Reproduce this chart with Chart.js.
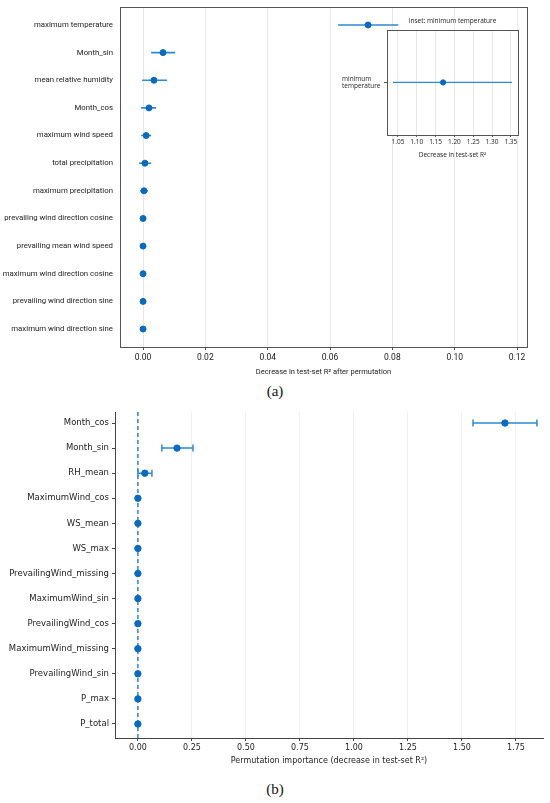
<!DOCTYPE html>
<html>
<head>
<meta charset="utf-8">
<script src="https://cdn.jsdelivr.net/npm/chart.js@4"></script>
<style>
  body { margin: 0; background: #fff; }
  #page { position: relative; width: 550px; height: 803px; overflow: hidden; background: #fff; }
  canvas { position: absolute; }
  .cap { position: absolute; width: 550px; left: 0; text-align: center; font-family: "Liberation Serif", "DejaVu Serif", serif; font-size: 15px; color: #111; }
</style>
</head>
<body>
<div id="page">
  <canvas id="chartA" width="550" height="380" style="left:0;top:0"></canvas>
  <canvas id="inset" width="200" height="155" style="left:330px;top:10px"></canvas>
  <div class="cap" style="top:383px">(a)</div>
  <canvas id="chartB" width="550" height="370" style="left:0;top:400px"></canvas>
  <div class="cap" style="top:781px">(b)</div>
</div>
<script>
// panel (a)
var labelsA = ['maximum temperature', 'Month_sin', 'mean relative humidity', 'Month_cos',
  'maximum wind speed', 'total precipitation', 'maximum precipitation',
  'prevailing wind direction cosine', 'prevailing mean wind speed',
  'maximum wind direction cosine', 'prevailing wind direction sine', 'maximum wind direction sine'];
var meanA = [0.0722, 0.0064, 0.0035, 0.0019, 0.0010, 0.0006, 0.0003, 0, 0, 0, 0, 0];
var lowA  = [0.0626, 0.0026, -0.0003, -0.0006, -0.0006, -0.0013, -0.0010, 0, 0, 0, 0, 0];
var highA = [0.0819, 0.0103, 0.0077, 0.0042, 0.0026, 0.0026, 0.0016, 0, 0, 0, 0, 0];
var ticksA = [0, 0.02, 0.04, 0.06, 0.08, 0.10, 0.12];
var rangeA = [-0.0074, 0.1232];

// inset of (a)
var labelsInset = [['minimum', 'temperature']];
var meanInset = [1.17];
var lowInset  = [1.037];
var highInset = [1.353];
var ticksInset = [1.05, 1.10, 1.15, 1.20, 1.25, 1.30, 1.35];
var rangeInset = [1.021, 1.369];

// panel (b)
var labelsB = ['Month_cos', 'Month_sin', 'RH_mean', 'MaximumWind_cos', 'WS_mean', 'WS_max',
  'PrevailingWind_missing', 'MaximumWind_sin', 'PrevailingWind_cos', 'MaximumWind_missing',
  'PrevailingWind_sin', 'P_max', 'P_total'];
var meanB = [1.699, 0.181, 0.032, 0, 0, 0, 0, 0, 0, 0, 0, 0, 0];
var lowB  = [1.551, 0.111, 0.000, 0, 0, 0, 0, 0, 0, 0, 0, 0, 0];
var highB = [1.847, 0.255, 0.065, 0, 0, 0, 0, 0, 0, 0, 0, 0, 0];
var ticksB = [0, 0.25, 0.5, 0.75, 1.0, 1.25, 1.5, 1.75];
var rangeB = [-0.106, 1.875];
var zeroLineB = 0;

var pointColor = '#0a6abd';
var barColor = '#2b8ad3';

function points(vals) {
  return vals.map(function(v, i) { return {x: v, y: i}; });
}

function whiskers(lo, hi) {
  var pts = [];
  for (var i = 0; i < lo.length; i++) {
    if (hi[i] > lo[i]) {
      pts.push({x: lo[i], y: i}, {x: hi[i], y: i}, {x: null, y: null});
    }
  }
  return pts;
}

function caps(lo, hi) {
  var pts = [];
  for (var i = 0; i < lo.length; i++) {
    if (hi[i] > lo[i]) {
      pts.push({x: lo[i], y: i}, {x: hi[i], y: i});
    }
  }
  return pts;
}

function fixTicks(list) {
  return function(scale) {
    scale.ticks = list.map(function(v) { return {value: v}; });
  };
}

function indexTicks(labels) {
  return fixTicks(labels.map(function(l, i) { return i; }));
}

// fixed axis width, no extra label padding at the ends
function yWidth(w) {
  return function(s) {
    s.width = w;
    s.paddingTop = 0;
    s.paddingBottom = 0;
  };
}

var frame = {
  id: 'frame',
  beforeDraw: function(chart, args, opts) {
    if (!opts.fill) return;
    var a = chart.chartArea, ctx = chart.ctx;
    ctx.save();
    ctx.fillStyle = opts.fill;
    ctx.fillRect(a.left, a.top, a.right - a.left, a.bottom - a.top);
    ctx.restore();
  },
  afterDraw: function(chart, args, opts) {
    if (!opts.color) return;
    var a = chart.chartArea, ctx = chart.ctx;
    ctx.save();
    ctx.strokeStyle = opts.color;
    ctx.lineWidth = 1;
    ctx.strokeRect(Math.round(a.left) + 0.5, Math.round(a.top) + 0.5,
      Math.round(a.right - a.left), Math.round(a.bottom - a.top));
    ctx.restore();
  }
};

var zeroLine = {
  id: 'zeroLine',
  beforeDatasetsDraw: function(chart, args, opts) {
    if (opts.value === undefined) return;
    var a = chart.chartArea, ctx = chart.ctx;
    var x = chart.scales.x.getPixelForValue(opts.value);
    ctx.save();
    ctx.strokeStyle = opts.color;
    ctx.lineWidth = 1.4;
    ctx.setLineDash([4, 3]);
    ctx.beginPath();
    ctx.moveTo(x, a.top);
    ctx.lineTo(x, a.bottom);
    ctx.stroke();
    ctx.restore();
  }
};

Chart.register(frame, zeroLine);

var fontA = 'Roboto, sans-serif';
var fontIn = "'Open Sans', sans-serif";
var fontB = "'DejaVu Sans', sans-serif";

new Chart(document.getElementById('chartA'), {
  type: 'scatter',
  data: {
    datasets: [{
      data: points(meanA),
      backgroundColor: pointColor,
      borderColor: pointColor,
      pointRadius: 3,
      pointHoverRadius: 3
    }, {
      data: whiskers(lowA, highA),
      showLine: true,
      spanGaps: false,
      borderColor: barColor,
      borderWidth: 1.6,
      pointRadius: 0
    }]
  },
  options: {
    responsive: false,
    animation: false,
    events: [],
    layout: {padding: {top: 7, right: 23, left: 0, bottom: 0}},
    plugins: {
      legend: {display: false},
      tooltip: {enabled: false},
      frame: {color: '#555'}
    },
    scales: {
      x: {
        type: 'linear',
        min: rangeA[0], max: rangeA[1],
        afterBuildTicks: fixTicks(ticksA),
        afterFit: function(s) { s.height = 33; },
        grid: {color: '#e8e8e8', drawTicks: true, tickLength: 3, tickColor: '#555'},
        border: {display: false},
        ticks: {color: '#222', font: {family: fontA, size: 8.5}, padding: 3,
          callback: function(v) { return v.toFixed(2); }},
        title: {display: true, text: 'Decrease in test-set R\u00b2 after permutation',
          color: '#222', font: {family: fontA, size: 7.5}, padding: {top: 0, bottom: 3}}
      },
      y: {
        type: 'linear',
        reverse: true,
        min: -0.65, max: 11.65,
        afterBuildTicks: indexTicks(labelsA),
        afterFit: yWidth(120),
        grid: {display: false, drawTicks: false},
        border: {display: false},
        ticks: {color: '#222', font: {family: fontA, size: 7.8}, padding: 7,
          callback: function(v) { return labelsA[v]; }}
      }
    }
  }
});

new Chart(document.getElementById('inset'), {
  type: 'scatter',
  data: {
    datasets: [{
      data: points(meanInset),
      backgroundColor: pointColor,
      borderColor: pointColor,
      pointRadius: 2.6,
      pointHoverRadius: 2.6
    }, {
      data: whiskers(lowInset, highInset),
      showLine: true,
      spanGaps: false,
      borderColor: barColor,
      borderWidth: 1.4,
      pointRadius: 0
    }]
  },
  options: {
    responsive: false,
    animation: false,
    events: [],
    layout: {padding: {top: 3, right: 12, left: 12, bottom: 0}},
    plugins: {
      legend: {display: false},
      tooltip: {enabled: false},
      frame: {color: '#555', fill: '#fff'},
      title: {display: true, fullSize: false, text: 'Inset: minimum temperature', color: '#222',
        font: {family: fontIn, size: 6.5, weight: 'normal'}, padding: {top: 4, bottom: 5}}
    },
    scales: {
      x: {
        type: 'linear',
        min: rangeInset[0], max: rangeInset[1],
        afterBuildTicks: fixTicks(ticksInset),
        afterFit: function(s) { s.height = 30; },
        grid: {color: '#e8e8e8', drawTicks: true, tickLength: 2, tickColor: '#555'},
        border: {display: false},
        ticks: {color: '#222', font: {family: fontIn, size: 6.5}, padding: 1,
          maxRotation: 0, callback: function(v) { return v.toFixed(2); }},
        title: {display: true, text: 'Decrease in test-set R\u00b2', color: '#222',
          font: {family: fontIn, size: 6.5}, padding: {top: 0, bottom: 6}}
      },
      y: {
        type: 'linear',
        reverse: true,
        min: -1, max: 1,
        afterBuildTicks: indexTicks(labelsInset),
        afterFit: yWidth(45),
        grid: {drawOnChartArea: false, drawTicks: true, tickLength: 3, color: '#555'},
        border: {display: false},
        ticks: {color: '#222', font: {family: fontIn, size: 6.5, lineHeight: 1.15}, padding: 3,
          align: 'center', crossAlign: 'far',
          callback: function(v) { return labelsInset[v]; }}
      }
    }
  }
});

new Chart(document.getElementById('chartB'), {
  type: 'scatter',
  data: {
    datasets: [{
      data: points(meanB),
      backgroundColor: pointColor,
      borderColor: pointColor,
      pointRadius: 3.2,
      pointHoverRadius: 3.2
    }, {
      data: caps(lowB, highB),
      pointStyle: 'line',
      rotation: 90,
      pointRadius: 3.5,
      pointHoverRadius: 3.5,
      borderColor: barColor,
      borderWidth: 1.5
    }, {
      data: whiskers(lowB, highB),
      showLine: true,
      spanGaps: false,
      borderColor: barColor,
      borderWidth: 1.5,
      pointRadius: 0
    }]
  },
  options: {
    responsive: false,
    animation: false,
    events: [],
    layout: {padding: {top: 12, right: 7, left: 0, bottom: 0}},
    plugins: {
      legend: {display: false},
      tooltip: {enabled: false},
      zeroLine: {value: zeroLineB, color: '#1f7fd0'}
    },
    scales: {
      x: {
        type: 'linear',
        min: rangeB[0], max: rangeB[1],
        afterBuildTicks: fixTicks(ticksB),
        afterFit: function(s) { s.height = 32; },
        grid: {color: '#efefef', drawTicks: true, tickLength: 3, tickColor: '#444'},
        border: {display: true, color: '#444', width: 1},
        ticks: {color: '#222', font: {family: fontB, size: 8}, padding: 2,
          callback: function(v) { return v.toFixed(2); }},
        title: {display: true, text: 'Permutation importance (decrease in test-set R\u00b2)',
          color: '#222', font: {family: fontB, size: 8}, padding: {top: 0, bottom: 4}}
      },
      y: {
        type: 'linear',
        reverse: true,
        min: -0.44, max: 12.56,
        afterBuildTicks: indexTicks(labelsB),
        afterFit: yWidth(115),
        grid: {drawOnChartArea: false, drawTicks: true, tickLength: 3, color: '#444'},
        border: {display: true, color: '#444', width: 1},
        ticks: {color: '#222', font: {family: fontB, size: 8.5}, padding: 3,
          callback: function(v) { return labelsB[v]; }}
      }
    }
  }
});
</script>
</body>
</html>
